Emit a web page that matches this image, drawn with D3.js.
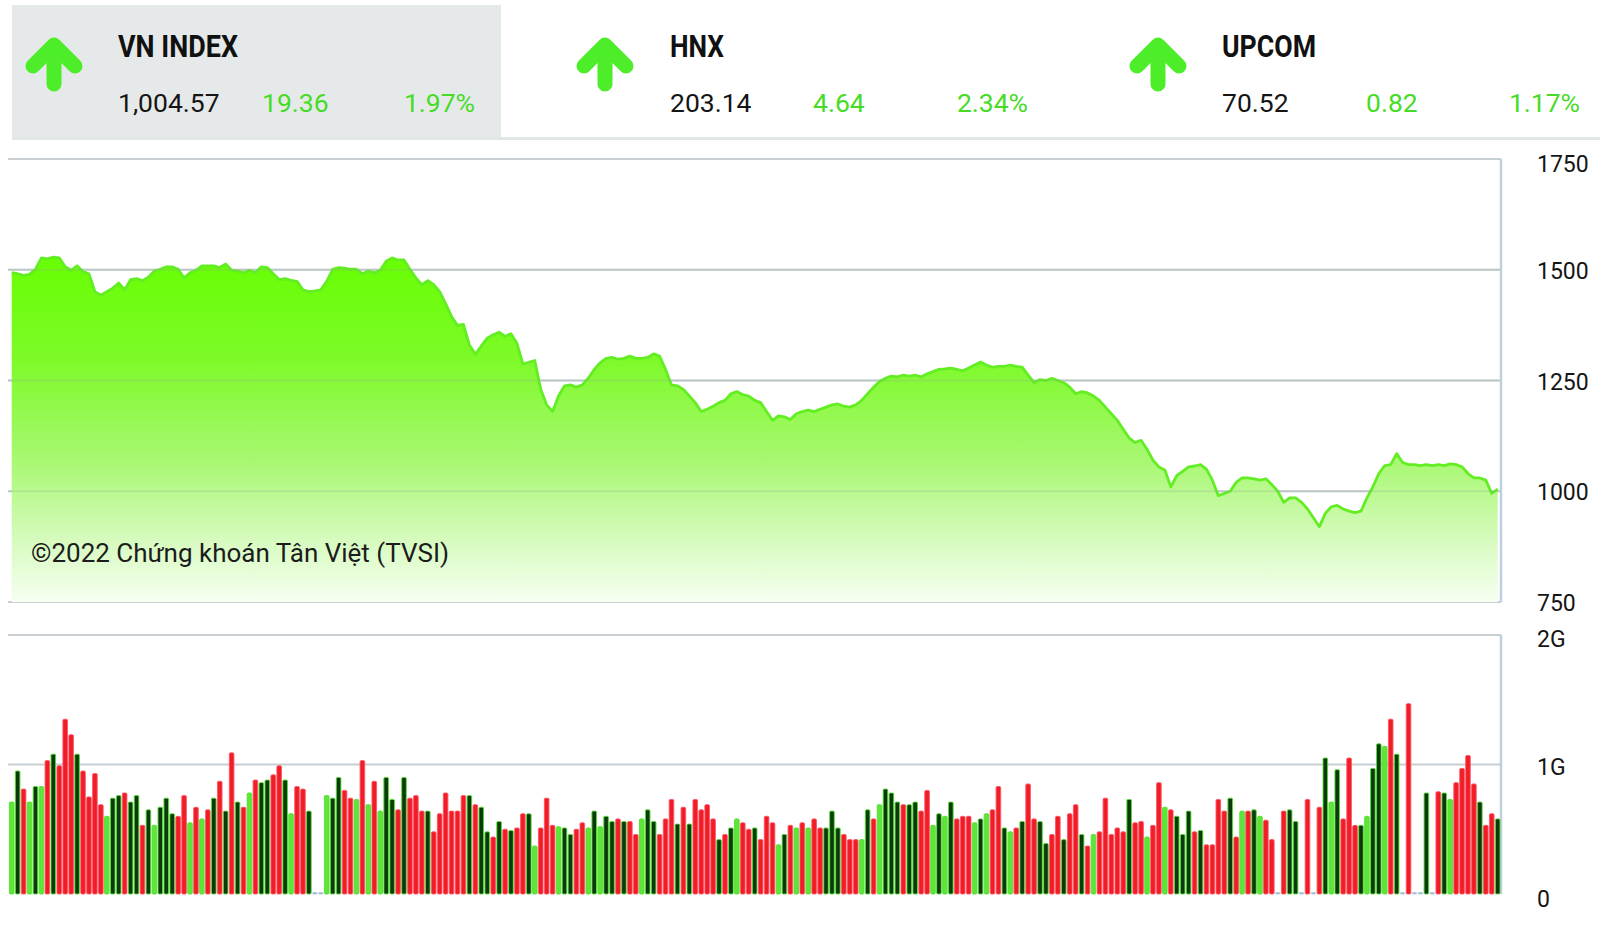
<!DOCTYPE html>
<html><head><meta charset="utf-8">
<script src="https://cdn.jsdelivr.net/npm/d3@7"></script>
<style>body{margin:0;background:#fff}svg{display:block;font-family:Roboto,"Noto Sans",sans-serif}</style>
</head><body>
<svg id="c" width="1600" height="929"></svg>
<script>
// ---------- data ----------
const indexNames   = ["VN INDEX", "HNX", "UPCOM"];
const indexValues  = ["1,004.57", "203.14", "70.52"];
const indexChanges = ["19.36", "4.64", "0.82"];
const indexPcts    = ["1.97%", "2.34%", "1.17%"];

const priceTicks = [750, 1000, 1250, 1500, 1750];
const volumeTicks = [0, 1, 2];
const volumeTickLabels = ["0", "1G", "2G"];

// VN-Index close, one value per session
const closeIndex = [
1493.3,1491.0,1487.1,1489.5,1501.1,1526.8,1524.4,1528.3,1526.8,1506.6,
1498.8,1508.9,1495.7,1491.0,1450.6,1442.8,1450.6,1458.4,1470.0,1454.5,
1477.8,1480.1,1475.5,1483.2,1497.2,1501.1,1506.6,1506.6,1501.1,1481.7,
1493.3,1498.8,1508.9,1508.9,1508.9,1505.0,1512.8,1498.8,1497.2,1493.3,
1498.8,1493.3,1506.6,1505.0,1491.0,1477.8,1480.1,1476.0,1473.9,1454.5,
1450.6,1452.1,1454.5,1473.9,1501.1,1505.0,1503.5,1501.1,1501.1,1491.0,
1497.2,1493.3,1498.8,1519.0,1526.8,1522.1,1522.1,1501.1,1481.7,1466.1,
1475.5,1466.1,1450.6,1423.4,1394.6,1374.4,1376.7,1330.1,1309.1,1328.0,
1345.6,1353.4,1358.9,1349.5,1355.7,1334.0,1287.3,1291.2,1295.1,1230,
1195,1180,1215,1238,1240,1235,1240,1255,1275,1290,
1300,1302,1298,1300,1305,1300,1300,1302,1310,1305,
1275,1240,1238,1230,1215,1200,1180,1185,1192,1200,
1205,1220,1225,1218,1215,1205,1200,1180,1160,1170,
1168,1162,1175,1180,1183,1180,1185,1190,1195,1197,
1192,1190,1195,1205,1220,1235,1248,1255,1260,1258,
1262,1260,1262,1258,1265,1270,1275,1276,1278,1275,
1272,1278,1285,1292,1285,1280,1282,1282,1285,1282,
1280,1262,1245,1252,1250,1255,1250,1245,1235,1220,
1225,1222,1215,1205,1190,1175,1160,1140,1120,1110,
1115,1095,1070,1055,1048,1010,1035,1045,1055,1057,
1060,1050,1025,990,995,1000,1020,1030,1030,1028,
1025,1028,1015,1000,975,985,985,975,960,940,
920,950,965,968,960,955,952,955,985,1010,
1040,1058,1060,1085,1065,1060,1060,1058,1060,1058,
1060,1058,1062,1060,1055,1040,1030,1030,1025,995,
1004.57
];

// matched volume, billions of shares (G)
const volumeG = [
.71,.95,.81,.71,.83,.83,1.03,1.08,.99,1.35,
1.23,1.08,.95,.75,.93,.69,.60,.74,.76,.78,
.71,.76,.53,.65,.53,.67,.74,.62,.60,.76,
.55,.67,.58,.65,.74,.87,.64,1.09,.71,.67,
.78,.88,.86,.88,.92,.99,.88,.62,.83,.81,
.64,0,0,.76,.74,.90,.80,.74,.73,1.03,
.69,.87,.64,.90,.73,.65,.90,.74,.76,.64,
.64,.48,.62,.78,.64,.64,.76,.76,.69,.67,
.48,.44,.56,.50,.49,.51,.62,.62,.37,.51,
.74,.53,.52,.51,.46,.50,.55,.51,.64,.52,
.60,.56,.58,.56,.56,.46,.58,.65,.56,.46,
.58,.73,.54,.67,.54,.73,.65,.69,.58,.42,
.46,.51,.58,.55,.50,.51,.42,.60,.55,.38,
.46,.53,.51,.55,.51,.58,.51,.51,.64,.51,
.46,.42,.42,.42,.65,.58,.69,.81,.78,.71,
.69,.69,.71,.64,.80,.53,.62,.60,.71,.58,
.60,.60,.55,.58,.62,.65,.83,.51,.48,.51,
.56,.85,.58,.56,.39,.46,.60,.42,.62,.69,
.46,.37,.46,.48,.74,.46,.51,.48,.73,.55,
.56,.44,.53,.86,.67,.65,.60,.46,.64,.48,
.49,.38,.38,.73,.64,.74,.44,.64,.64,.65,
.60,.57,.42,0,.64,.65,.56,0,.73,0,
.67,1.05,.71,.96,.58,1.05,.53,.53,.60,.97,
1.16,1.14,1.35,1.08,0,1.47,0,0,.78,0,
.79,.78,.73,.86,.97,1.07,.85,.71,.53,.62,
.58
];

// bar colour class: r = down (red), g = up (dark green), l = up (light green), z = no trading
const volumeDir = (
"lgrlglrgrr" + "rgrrrrlggr" + "ggrglgggrr" + "lrlrgrgrgr" +
"lrggrrglrr" + "gzzlggrrlr" + "lrlggrgrrr" + "grrrrrrgrg" +
"grgrgrrglr" + "rrlggrrlgl" + "ggrgrrlggr" + "rrgrgrrrrg" +
"rglrrgrrrl" + "grlrlrrggg" + "rrrlgrlggg" + "rggrrlglgr" +
"rrlglrrglr" + "grrggrrgrr" + "grlrrrrrgr" + "rlrrlrgggr" +
"grrrrgrlrg" + "lrrzrggzrz" + "rglgrrrglg" + "glrgzrzzgz" +
"rglrrrrgrr" + "g").split("");

const sessions = d3.range(closeIndex.length);

// ---------- drawing ----------
const svg = d3.select("#c");
const defs = svg.append("defs");

// header
svg.append("rect").attr("x", 12).attr("y", 5).attr("width", 489).attr("height", 133).attr("fill", "#e6e9e9");
svg.append("rect").attr("x", 12).attr("y", 137).attr("width", 1588).attr("height", 3).attr("fill", "#e1e7e7");

const arrowX = [54, 605, 1158], nameX = [118, 670, 1222], chgX = [262, 813, 1366], pctX = [475, 1028, 1580];
const nameW = [120, 54, 94];
const upGreen = "#4ded2a", txtGreen = "#46dc26";
indexNames.forEach((n, i) => {
  const ax = arrowX[i];
  svg.append("path")
    .attr("d", `M${ax},84 L${ax},46 M${ax - 21},66 L${ax},45 L${ax + 21},66`)
    .attr("fill", "none").attr("stroke", upGreen).attr("stroke-width", 15)
    .attr("stroke-linecap", "round").attr("stroke-linejoin", "round");
  svg.append("text").attr("x", nameX[i]).attr("y", 57).text(n)
    .attr("font-size", 32).attr("font-weight", 700).attr("fill", "#111")
    .attr("textLength", nameW[i]).attr("lengthAdjust", "spacingAndGlyphs");
  svg.append("text").attr("x", nameX[i]).attr("y", 112).text(indexValues[i])
    .attr("font-size", 26.5).attr("fill", "#151515");
  svg.append("text").attr("x", chgX[i]).attr("y", 112).text(indexChanges[i])
    .attr("font-size", 26.5).attr("fill", txtGreen);
  svg.append("text").attr("x", pctX[i]).attr("y", 112).text(indexPcts[i])
    .attr("font-size", 26.5).attr("fill", txtGreen).attr("text-anchor", "end");
});

// scales
const x = d3.scaleLinear().domain([0, sessions.length - 1]).range([11.7, 1497.7]);
const y = d3.scaleLinear().domain([750, 1750]).range([602, 159]);
const yv = d3.scaleLinear().domain([0, 2]).range([894, 635]);
const gridColor = "#c7cfd3";
const xL = 8, xR = 1501;

// price grid
svg.append("g").selectAll("line").data(priceTicks).join("line")
  .attr("x1", xL).attr("x2", xR).attr("y1", d => y(d)).attr("y2", d => y(d))
  .attr("stroke", gridColor).attr("stroke-width", 2);

// area gradient
const grad = defs.append("linearGradient").attr("id", "ag")
  .attr("gradientUnits", "userSpaceOnUse").attr("x1", 0).attr("y1", 250).attr("x2", 0).attr("y2", 602);
[[0, "#66ff00"], [0.3, "#7cfa26"], [0.6, "#a8f872"], [0.82, "#d6fbbd"], [1, "#f6fff1"]]
  .forEach(([o, c]) => grad.append("stop").attr("offset", o).attr("stop-color", c));

const area = d3.area().x((d, i) => x(i)).y0(y(750)).y1(d => y(d)).curve(d3.curveLinear);
svg.append("path").datum(closeIndex).attr("d", area).attr("fill", "url(#ag)");
const line = d3.line().x((d, i) => x(i)).y(d => y(d));
svg.append("path").datum(closeIndex).attr("d", line).attr("fill", "none")
  .attr("stroke", "#62ee22").attr("stroke-width", 2.8).attr("stroke-linejoin", "round");

// faint grid over area
svg.append("g").selectAll("line").data(priceTicks.slice(1, 4)).join("line")
  .attr("x1", xL).attr("x2", xR).attr("y1", d => y(d)).attr("y2", d => y(d))
  .attr("stroke", "#8aa890").attr("stroke-width", 2).attr("opacity", 0.22);

// right border
svg.append("line").attr("x1", xR).attr("x2", xR).attr("y1", y(1750)).attr("y2", y(750))
  .attr("stroke", "#bcd1dd").attr("stroke-width", 2.5);

// price axis labels
svg.append("g").selectAll("text").data(priceTicks).join("text")
  .attr("x", 1537).attr("y", d => Math.max(y(d) + 9, 172)).text(d => d)
  .attr("font-size", 23).attr("fill", "#151515");

// watermark
svg.append("text").attr("x", 31).attr("y", 562).text("©2022 Chứng khoán Tân Việt (TVSI)")
  .attr("font-size", 25.5).attr("fill", "#1c1c1c")
  .attr("textLength", 418).attr("lengthAdjust", "spacingAndGlyphs");

// volume grid
svg.append("g").selectAll("line").data(volumeTicks.slice(1)).join("line")
  .attr("x1", xL).attr("x2", xR).attr("y1", d => yv(d)).attr("y2", d => yv(d))
  .attr("stroke", gridColor).attr("stroke-width", 2);
svg.append("line").attr("x1", xR).attr("x2", xR).attr("y1", yv(2)).attr("y2", yv(0))
  .attr("stroke", "#bcd1dd").attr("stroke-width", 2.5);

// bars
const fillOf = { r: "#f01d26", g: "#0c3a0e", l: "#5fe43a", z: "#a9c3d6" };
const strokeOf = { r: "#ff5566", g: "#52e02c", l: "#52e02c", z: "#a9c3d6" };
const bw = 4.6;
svg.append("g").selectAll("rect").data(volumeG).join("rect")
  .attr("x", (d, i) => x(i) - bw / 2)
  .attr("width", bw)
  .attr("y", d => d > 0 ? yv(d) : yv(0) - 1.5)
  .attr("height", d => d > 0 ? yv(0) - yv(d) : 1.5)
  .attr("rx", 1.2)
  .attr("fill", (d, i) => fillOf[volumeDir[i]])
  .attr("stroke", (d, i) => strokeOf[volumeDir[i]])
  .attr("stroke-width", 0.9);

// volume axis labels
const vLabY = [907, 775, 647];
svg.append("g").selectAll("text").data(volumeTicks).join("text")
  .attr("x", 1537).attr("y", (d, i) => vLabY[i]).text((d, i) => volumeTickLabels[i])
  .attr("font-size", 23).attr("fill", "#151515");
</script>
</body></html>
